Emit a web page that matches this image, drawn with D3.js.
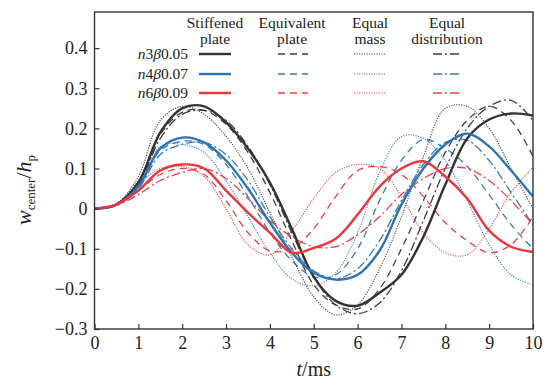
<!DOCTYPE html>
<html>
<head>
<meta charset="utf-8">
<script src="https://cdn.jsdelivr.net/npm/d3@7"></script>
<style>
  body { margin: 0; background: #fff; }
  svg text { font-family: "Liberation Serif", "Times New Roman", serif; fill: #222; }
</style>
</head>
<body>
<svg id="chart" width="548" height="381"></svg>
<script>
// time samples (ms)
var times = [0, 0.5, 1, 1.5, 2, 2.5, 3, 3.5, 4, 4.5, 5, 5.5, 6, 6.5, 7, 7.5, 8, 8.5, 9, 9.5, 10];

// n3 beta 0.05
var stiff3 = [0, 0.01, 0.065, 0.19, 0.25, 0.255, 0.215, 0.15, 0.065, -0.05, -0.17, -0.23, -0.242, -0.21, -0.165, -0.07, 0.06, 0.175, 0.222, 0.237, 0.232];
var equiv3 = [0, 0.01, 0.065, 0.185, 0.24, 0.245, 0.21, 0.14, 0.04, -0.08, -0.19, -0.24, -0.25, -0.2, -0.1, 0.02, 0.14, 0.22, 0.255, 0.22, 0.13];
var mass3 = [0, 0.012, 0.08, 0.22, 0.255, 0.235, 0.18, 0.1, -0.01, -0.12, -0.22, -0.265, -0.24, -0.15, -0.02, 0.13, 0.25, 0.255, 0.2, 0.1, 0.0];
var dist3 = [0, 0.01, 0.06, 0.175, 0.235, 0.245, 0.22, 0.155, 0.06, -0.06, -0.17, -0.24, -0.262, -0.235, -0.155, -0.03, 0.1, 0.2, 0.255, 0.27, 0.22];

// n4 beta 0.07
var stiff4 = [0, 0.01, 0.055, 0.15, 0.177, 0.165, 0.12, 0.05, -0.035, -0.11, -0.16, -0.177, -0.165, -0.105, 0.01, 0.1, 0.16, 0.187, 0.155, 0.095, 0.03];
var equiv4 = [0, 0.01, 0.055, 0.145, 0.168, 0.16, 0.11, 0.03, -0.06, -0.13, -0.17, -0.165, -0.1, 0.02, 0.12, 0.172, 0.15, 0.105, 0.035, -0.04, -0.1];
var mass4 = [0, 0.012, 0.07, 0.155, 0.16, 0.14, 0.07, -0.02, -0.11, -0.175, -0.192, -0.16, -0.06, 0.09, 0.18, 0.175, 0.12, 0.02, -0.09, -0.165, -0.19];
var dist4 = [0, 0.01, 0.05, 0.135, 0.16, 0.165, 0.135, 0.07, -0.02, -0.1, -0.155, -0.175, -0.15, -0.08, 0.02, 0.11, 0.165, 0.17, 0.12, 0.04, -0.04];

// n6 beta 0.09
var stiff6 = [0, 0.01, 0.045, 0.095, 0.11, 0.1, 0.045, -0.01, -0.06, -0.11, -0.098, -0.075, -0.015, 0.055, 0.1, 0.118, 0.08, 0.025, -0.055, -0.095, -0.108];
var equiv6 = [0, 0.01, 0.045, 0.085, 0.1, 0.085, 0.02, -0.06, -0.105, -0.1, -0.05, 0.03, 0.095, 0.105, 0.085, 0.03, -0.035, -0.08, -0.11, -0.09, -0.02];
var mass6 = [0, 0.012, 0.06, 0.1, 0.105, 0.08, 0.0, -0.09, -0.115, -0.055, 0.025, 0.09, 0.11, 0.1, 0.03, -0.06, -0.11, -0.115, -0.05, 0.04, 0.103];
var dist6 = [0, 0.008, 0.035, 0.07, 0.09, 0.1, 0.075, 0.025, -0.03, -0.07, -0.095, -0.095, -0.065, -0.02, 0.035, 0.075, 0.1, 0.1, 0.07, 0.02, -0.04];

var caseLabels = ["3", "4", "6"];
var betaLabels = ["0.05", "0.07", "0.09"];
var columnTitles = [["Stiffened", "plate"], ["Equivalent", "plate"], ["Equal", "mass"], ["Equal", "distribution"]];
var xTicks = [0, 1, 2, 3, 4, 5, 6, 7, 8, 9, 10];
var yTicks = [-0.3, -0.2, -0.1, 0, 0.1, 0.2, 0.3, 0.4];

var colors = ["#333333", "#2b74b4", "#e8373f"];
var styles = [
  {dash: null, width: 2.4, opacity: 1},
  {dash: "7,5", width: 1.3, opacity: 0.95},
  {dash: "1.2,1.3", width: 1.1, opacity: 0.9},
  {dash: "9,3,2,3", width: 1.3, opacity: 0.95}
];
var series = [
  [stiff3, equiv3, mass3, dist3],
  [stiff4, equiv4, mass4, dist4],
  [stiff6, equiv6, mass6, dist6]
];

var svg = d3.select("#chart");
var margin = {left: 94.5, right: 15, top: 12, bottom: 52};
var width = 548 - margin.left - margin.right;
var height = 381 - margin.top - margin.bottom;

var x = d3.scaleLinear().domain([0, 10]).range([0, width]);
var y = d3.scaleLinear().domain([-0.3, 0.49]).range([height, 0]);

var plot = svg.append("g").attr("transform", "translate(" + margin.left + "," + margin.top + ")");

// curves
var line = d3.line()
  .x(function(d, i) { return x(times[i]); })
  .y(function(d) { return y(d); })
  .curve(d3.curveCatmullRom.alpha(0.5));

svg.append("defs").append("clipPath").attr("id", "clip")
  .append("rect").attr("width", width).attr("height", height);

var curves = plot.append("g").attr("clip-path", "url(#clip)");
// thin ones first, solid on top
[1, 2, 3, 0].forEach(function(k) {
  series.forEach(function(group, g) {
    curves.append("path")
      .datum(group[k])
      .attr("d", line)
      .style("fill", "none")
      .style("stroke", colors[g])
      .style("stroke-width", styles[k].width)
      .style("stroke-opacity", styles[k].opacity)
      .style("stroke-dasharray", styles[k].dash);
  });
});

// axes
var xAxis = d3.axisBottom(x).tickValues(xTicks).tickSize(-5).tickPadding(7)
  .tickFormat(d3.format("d"));
var yAxis = d3.axisLeft(y).tickValues(yTicks).tickSize(-5).tickPadding(7)
  .tickFormat(function(d) { return d === 0 ? "0" : d3.format(".1f")(d); });

var gx = plot.append("g").attr("transform", "translate(0," + height + ")").call(xAxis);
var gy = plot.append("g").call(yAxis);
[gx, gy].forEach(function(g) {
  g.attr("font-family", null).attr("font-size", null);
  g.select(".domain").remove();
  g.selectAll("line").style("stroke", "#333").style("stroke-width", 1.2);
  g.selectAll("text").style("font-family", "'Liberation Serif'")
    .style("font-size", "18px").style("fill", "#222");
});

// frame
plot.append("rect")
  .attr("width", width).attr("height", height)
  .style("fill", "none").style("stroke", "#333").style("stroke-width", 1.4);

// axis titles
var xt = svg.append("text")
  .attr("x", margin.left + width / 2).attr("y", 376)
  .attr("text-anchor", "middle").style("font-size", "20px");
xt.append("tspan").style("font-style", "italic").text("t");
xt.append("tspan").text("/ms");

var yt = svg.append("text")
  .attr("transform", "translate(31," + 190 + ") rotate(-90)")
  .attr("text-anchor", "middle").style("font-size", "22px");
yt.append("tspan").style("font-style", "italic").text("w");
yt.append("tspan").attr("dy", 4).style("font-size", "13px").text("center");
yt.append("tspan").attr("dy", -4).text("/");
yt.append("tspan").style("font-style", "italic").text("h");
yt.append("tspan").attr("dy", 4).style("font-size", "13px").text("p");

// legend
var legend = svg.append("g");
var colCenters = [215, 292, 370, 447];
var sampleX = [[199, 231], [278, 308], [354, 386], [433, 462]];
var rowY = [54, 74, 93];

columnTitles.forEach(function(tl, c) {
  tl.forEach(function(s, j) {
    legend.append("text")
      .attr("x", colCenters[c]).attr("y", 28 + j * 16)
      .attr("text-anchor", "middle").style("font-size", "15.5px")
      .text(s);
  });
});

caseLabels.forEach(function(n, r) {
  var t = legend.append("text")
    .attr("x", 188).attr("y", rowY[r] + 5)
    .attr("text-anchor", "end").style("font-size", "15.5px");
  t.append("tspan").style("font-style", "italic").text("n");
  t.append("tspan").text(n);
  t.append("tspan").style("font-style", "italic").text("β");
  t.append("tspan").text(betaLabels[r]);

  styles.forEach(function(st, k) {
    legend.append("line")
      .attr("x1", sampleX[k][0]).attr("x2", sampleX[k][1])
      .attr("y1", rowY[r]).attr("y2", rowY[r])
      .style("stroke", colors[r])
      .style("stroke-width", st.width)
      .style("stroke-opacity", st.opacity)
      .style("stroke-dasharray", st.dash);
  });
});
</script>
</body>
</html>
